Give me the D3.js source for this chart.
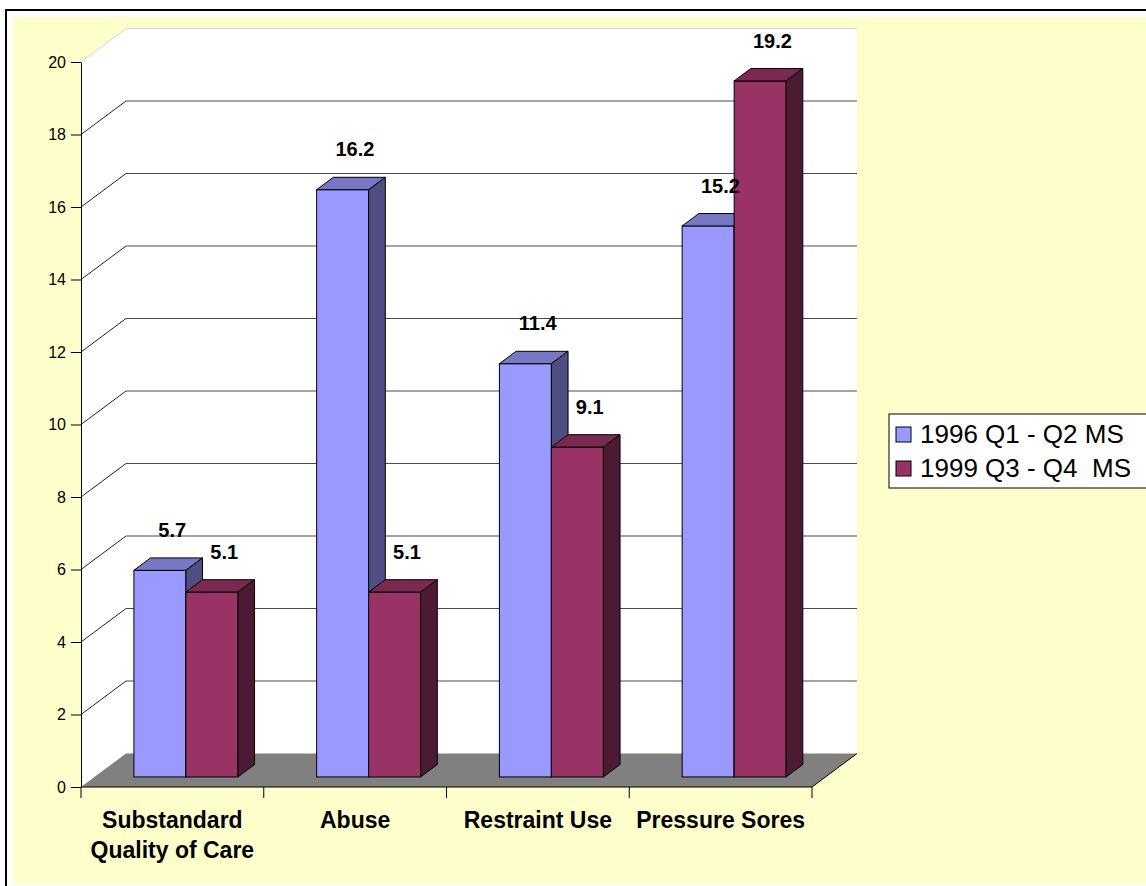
<!DOCTYPE html>
<html>
<head>
<meta charset="utf-8">
<script src="https://cdn.jsdelivr.net/npm/d3@7/dist/d3.min.js"></script>
<style>
  html, body { margin: 0; padding: 0; background: #ffffff; }
  svg { display: block; }
  text { font-family: Arial, "Liberation Sans", sans-serif; }
</style>
</head>
<body>
<svg id="chart" width="1146" height="886"></svg>
<script>
// Chart data
const categories = [["Substandard", "Quality of Care"], ["Abuse"], ["Restraint Use"], ["Pressure Sores"]];
const seriesNames = ["1996 Q1 - Q2 MS", "1999 Q3 - Q4  MS"];
const values1996 = [5.7, 16.2, 11.4, 15.2];
const values1999 = [5.1, 5.1, 9.1, 19.2];
const yTickValues = [0, 2, 4, 6, 8, 10, 12, 14, 16, 18, 20];

const seriesValues = [values1996, values1999];
const frontColors = ["#9999FF", "#993366"];
const topColors = ["#7777C6", "#7A2950"];
const sideColors = ["#4E4E82", "#4D1A33"];

const svg = d3.select("#chart");

// Frame and chart area background
svg.append("rect").attr("x", 6).attr("y", 10).attr("width", 1200).attr("height", 1000)
  .attr("fill", "#ffffff").attr("stroke", "#000").attr("stroke-width", 2);
svg.append("rect").attr("x", 13).attr("y", 17).attr("width", 1140).attr("height", 867)
  .attr("fill", "#FFFFCC");

// 3D projection: front plane and depth vector
const plotLeft = 81, plotRight = 812;
const depthX = 45, depthY = -33.5;
const barFront = 0.3, barBack = 0.67;

const y = d3.scaleLinear().domain([0, 20]).range([787, 62]);
const x0 = d3.scaleBand().domain(d3.range(categories.length)).range([plotLeft, plotRight]);
const x1 = d3.scaleBand().domain(d3.range(seriesNames.length)).range([39.4, 143.4]);

const base = y(0);
const top20 = y(20);

// Left (side) wall
svg.append("polygon")
  .attr("points", [[plotLeft, top20], [plotLeft + depthX, top20 + depthY], [plotLeft + depthX, base + depthY], [plotLeft, base]].join(" "))
  .attr("fill", "#ffffff");
// Back wall
svg.append("rect")
  .attr("x", plotLeft + depthX).attr("y", top20 + depthY)
  .attr("width", plotRight - plotLeft).attr("height", base - top20)
  .attr("fill", "#ffffff");

// Gridlines on back wall and side wall
const grid = svg.append("g");
yTickValues.filter(v => v > 0 && v < 20).forEach(v => {
  grid.append("line")
    .attr("x1", plotLeft + depthX).attr("x2", plotRight + depthX)
    .attr("y1", y(v) + depthY).attr("y2", y(v) + depthY)
    .attr("stroke", "#4a4a4a").attr("stroke-width", 1.2);
  grid.append("line")
    .attr("x1", plotLeft).attr("x2", plotLeft + depthX)
    .attr("y1", y(v)).attr("y2", y(v) + depthY)
    .attr("stroke", "#222").attr("stroke-width", 1);
});
// Top edges of the walls
grid.append("polyline")
  .attr("points", [[plotLeft, top20], [plotLeft + depthX, top20 + depthY], [plotRight + depthX, top20 + depthY]].join(" "))
  .attr("fill", "none").attr("stroke", "#d8d8d8").attr("stroke-width", 1);

// Floor
svg.append("polygon")
  .attr("points", [[plotLeft, base], [plotRight, base], [plotRight + depthX, base + depthY], [plotLeft + depthX, base + depthY]].join(" "))
  .attr("fill", "#808080");
svg.append("line")
  .attr("x1", plotRight).attr("y1", base).attr("x2", plotRight + depthX).attr("y2", base + depthY)
  .attr("stroke", "#000").attr("stroke-width", 1);

// Bars
const fdx = depthX * barFront, fdy = depthY * barFront;
const bdx = depthX * (barBack - barFront), bdy = depthY * (barBack - barFront);
const bars = svg.append("g");
const labels = [];
categories.forEach((cat, ci) => {
  seriesValues.forEach((vals, si) => {
    const v = vals[ci];
    const bx = x0(ci) + x1(si) + fdx;
    const w = x1.bandwidth();
    const yt = y(v) + fdy;
    const yb = base + fdy;
    bars.append("rect")
      .attr("x", bx).attr("y", yt).attr("width", w).attr("height", yb - yt)
      .attr("fill", frontColors[si]).attr("stroke", "#000").attr("stroke-width", 1);
    bars.append("polygon")
      .attr("points", [[bx, yt], [bx + w, yt], [bx + w + bdx, yt + bdy], [bx + bdx, yt + bdy]].join(" "))
      .attr("fill", topColors[si]).attr("stroke", "#000").attr("stroke-width", 1).attr("stroke-linejoin", "round");
    bars.append("polygon")
      .attr("points", [[bx + w, yt], [bx + w + bdx, yt + bdy], [bx + w + bdx, yb + bdy], [bx + w, yb]].join(" "))
      .attr("fill", sideColors[si]).attr("stroke", "#000").attr("stroke-width", 1).attr("stroke-linejoin", "round");
    labels.push({ v, x: bx + w / 2 + bdx / 2 + 4, y: yt + bdy - 21 });
  });
});

// Value labels
svg.append("g").selectAll("text").data(labels).join("text")
  .attr("x", d => d.x).attr("y", d => d.y)
  .attr("text-anchor", "middle")
  .attr("font-size", 20).attr("font-weight", "bold").attr("fill", "#000")
  .text(d => d.v.toFixed(1));

// Value axis
const yAxis = d3.axisLeft(y).tickValues(yTickValues).tickSize(10).tickSizeOuter(0).tickPadding(5);
const yg = svg.append("g").attr("transform", `translate(${plotLeft},0)`).call(yAxis);
yg.select(".domain").attr("stroke", "#000");
yg.selectAll(".tick line").attr("stroke", "#000");
yg.selectAll(".tick text").attr("font-size", 16).attr("fill", "#000")
  .attr("font-family", 'Arial, "Liberation Sans", sans-serif');

// Category axis
svg.append("line").attr("x1", plotLeft).attr("x2", plotRight).attr("y1", base).attr("y2", base)
  .attr("stroke", "#000").attr("stroke-width", 1);
const boundaries = d3.range(categories.length + 1).map(i => plotLeft + i * x0.bandwidth());
svg.append("g").selectAll("line").data(boundaries).join("line")
  .attr("x1", d => d).attr("x2", d => d).attr("y1", base).attr("y2", base + 11)
  .attr("stroke", "#000").attr("stroke-width", 1);
const catG = svg.append("g").selectAll("text").data(categories).join("text")
  .attr("x", (d, i) => x0(i) + x0.bandwidth() / 2)
  .attr("y", 828)
  .attr("text-anchor", "middle")
  .attr("font-size", 23).attr("font-weight", "bold").attr("fill", "#000");
catG.selectAll("tspan").data(d => d).join("tspan")
  .attr("x", function () { return d3.select(this.parentNode).attr("x"); })
  .attr("dy", (d, i) => i === 0 ? 0 : 30)
  .text(d => d);

// Legend
const legend = svg.append("g");
legend.append("rect").attr("x", 889).attr("y", 414).attr("width", 300).attr("height", 74)
  .attr("fill", "#ffffff").attr("stroke", "#000").attr("stroke-width", 1);
seriesNames.forEach((name, i) => {
  legend.append("rect").attr("x", 896).attr("y", 427 + i * 34).attr("width", 15).attr("height", 15)
    .attr("fill", frontColors[i]).attr("stroke", "#000").attr("stroke-width", 1);
  legend.append("text").attr("x", 920).attr("y", 443 + i * 34)
    .attr("font-size", 26).attr("fill", "#000")
    .style("white-space", "pre")
    .text(name);
});
</script>
</body>
</html>
